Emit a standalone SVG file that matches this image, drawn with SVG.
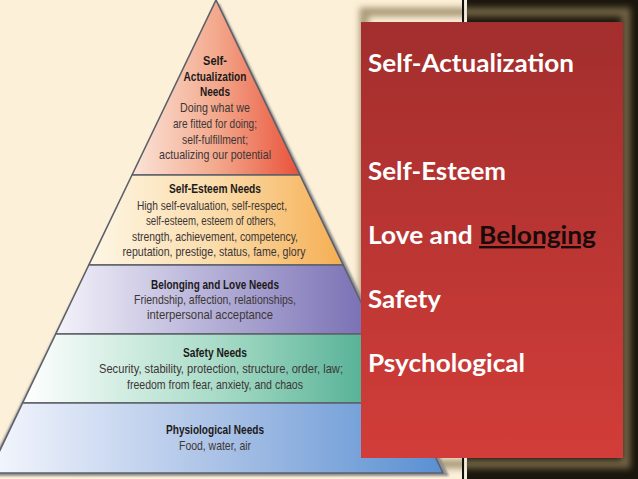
<svg xmlns="http://www.w3.org/2000/svg" width="638" height="479" viewBox="0 0 638 479">
<defs>
<linearGradient id="gTop" gradientUnits="userSpaceOnUse" x1="132" y1="0" x2="300" y2="0"><stop offset="0" stop-color="#fbe4d8"/><stop offset="0.5" stop-color="#f3a98d"/><stop offset="1" stop-color="#e9523a"/></linearGradient>
<linearGradient id="gEst" gradientUnits="userSpaceOnUse" x1="89" y1="0" x2="343" y2="0"><stop offset="0" stop-color="#fdf7e6"/><stop offset="0.5" stop-color="#fbdcaa"/><stop offset="1" stop-color="#f5ae52"/></linearGradient>
<linearGradient id="gBel" gradientUnits="userSpaceOnUse" x1="56" y1="0" x2="376" y2="0"><stop offset="0" stop-color="#f4f3fa"/><stop offset="0.5" stop-color="#b3aed6"/><stop offset="1" stop-color="#766cb2"/></linearGradient>
<linearGradient id="gSaf" gradientUnits="userSpaceOnUse" x1="23" y1="0" x2="409" y2="0"><stop offset="0" stop-color="#ffffff"/><stop offset="0.5" stop-color="#a9dcc8"/><stop offset="1" stop-color="#3ea587"/></linearGradient>
<linearGradient id="gPhy" gradientUnits="userSpaceOnUse" x1="0" y1="0" x2="443" y2="0"><stop offset="0" stop-color="#f1f4fc"/><stop offset="0.5" stop-color="#a9c1e6"/><stop offset="1" stop-color="#5990d2"/></linearGradient>
<linearGradient id="gRed" x1="0" y1="0" x2="0" y2="1"><stop offset="0" stop-color="#a22e2d"/><stop offset="1" stop-color="#d23d39"/></linearGradient>
<filter id="blur" x="-20%" y="-20%" width="140%" height="140%"><feGaussianBlur stdDeviation="3"/></filter>
<filter id="sblur" x="-10%" y="-10%" width="120%" height="120%"><feGaussianBlur stdDeviation="1.2"/></filter>
<style>
.band{stroke:#5d6068;stroke-width:1.6;stroke-linejoin:round}
.h{font-family:"Liberation Sans",Arial,sans-serif;font-weight:700;font-size:13px;fill:#1d1a1a;text-anchor:middle}
.b{font-family:"Liberation Sans",Arial,sans-serif;font-size:13px;fill:#3d3636;text-anchor:middle}
.r{font-family:Lato,"Open Sans",sans-serif;font-weight:700;font-size:24px;fill:#ffffff}
</style>
</defs>
<rect x="0" y="0" width="638" height="479" fill="#fcf0d8"/>
<g id="frame">
<rect x="467" y="0" width="171" height="479" fill="#1b160d"/>
<rect x="364" y="12" width="262" height="452" fill="none" stroke="#8e7d56" stroke-width="9" filter="url(#blur)" opacity="0.75"/>
<rect x="462" y="0" width="2.2" height="479" fill="#111111"/>
<rect x="464.2" y="0" width="2.5" height="479" fill="#f4efe4"/>
</g>
<g id="pyramid-shadow">
<polygon points="219,3 449,476 -8,476 -8,462" fill="#8d8d8f" filter="url(#sblur)"/>
</g>
<g id="self-actualization">
<polygon class="band" points="216,0 300,175 132,175" fill="url(#gTop)"/>
<text class="h" x="215" y="65" textLength="24" lengthAdjust="spacingAndGlyphs">Self-</text>
<text class="h" x="215" y="80.5" textLength="63" lengthAdjust="spacingAndGlyphs">Actualization</text>
<text class="h" x="215" y="96" textLength="30" lengthAdjust="spacingAndGlyphs">Needs</text>
<text class="b" x="215" y="112" textLength="70" lengthAdjust="spacingAndGlyphs">Doing what we</text>
<text class="b" x="215" y="128" textLength="84" lengthAdjust="spacingAndGlyphs">are fitted for doing;</text>
<text class="b" x="215" y="143.5" textLength="66" lengthAdjust="spacingAndGlyphs">self-fulfillment;</text>
<text class="b" x="215" y="159" textLength="112" lengthAdjust="spacingAndGlyphs">actualizing our potential</text>
</g>
<g id="self-esteem">
<polygon class="band" points="132,175 300,175 343.2,265 88.8,265" fill="url(#gEst)"/>
<text class="h" x="215" y="193" textLength="92" lengthAdjust="spacingAndGlyphs">Self-Esteem Needs</text>
<text class="b" x="212" y="209.5" textLength="150" lengthAdjust="spacingAndGlyphs">High self-evaluation, self-respect,</text>
<text class="b" x="211" y="225" textLength="130" lengthAdjust="spacingAndGlyphs">self-esteem, esteem of others,</text>
<text class="b" x="215" y="240.5" textLength="166" lengthAdjust="spacingAndGlyphs">strength, achievement, competency,</text>
<text class="b" x="214" y="256" textLength="183" lengthAdjust="spacingAndGlyphs">reputation, prestige, status, fame, glory</text>
</g>
<g id="belonging">
<polygon class="band" points="88.8,265 343.2,265 376.3,334 55.7,334" fill="url(#gBel)"/>
<text class="h" x="215" y="289" textLength="128" lengthAdjust="spacingAndGlyphs">Belonging and Love Needs</text>
<text class="b" x="215" y="303.5" textLength="162" lengthAdjust="spacingAndGlyphs">Friendship, affection, relationships,</text>
<text class="b" x="210" y="319" textLength="126" lengthAdjust="spacingAndGlyphs">interpersonal acceptance</text>
</g>
<g id="safety">
<polygon class="band" points="55.7,334 376.3,334 409.4,403 22.6,403" fill="url(#gSaf)"/>
<text class="h" x="215" y="357" textLength="64" lengthAdjust="spacingAndGlyphs">Safety Needs</text>
<text class="b" x="221" y="373" textLength="244" lengthAdjust="spacingAndGlyphs">Security, stability, protection, structure, order, law;</text>
<text class="b" x="215" y="389" textLength="176" lengthAdjust="spacingAndGlyphs">freedom from fear, anxiety, and chaos</text>
</g>
<g id="physiological">
<polygon class="band" points="22.6,403 409.4,403 443,473 -11,473" fill="url(#gPhy)"/>
<text class="h" x="215" y="434" textLength="98" lengthAdjust="spacingAndGlyphs">Physiological Needs</text>
<text class="b" x="215" y="449.5" textLength="72" lengthAdjust="spacingAndGlyphs">Food, water, air</text>
</g>
<g id="connectors"/>
<g id="legend-box">
<rect x="361" y="22" width="262" height="436" fill="url(#gRed)"/>
<text class="r" x="368" y="72" textLength="206" lengthAdjust="spacingAndGlyphs">Self-Actualization</text>
<text class="r" x="368" y="180" textLength="138" lengthAdjust="spacingAndGlyphs">Self-Esteem</text>
<text class="r" x="368" y="244" textLength="228" lengthAdjust="spacingAndGlyphs">Love and <tspan fill="#1a0b0b" text-decoration="underline">Belonging</tspan></text>
<text class="r" x="368" y="308" textLength="73" lengthAdjust="spacingAndGlyphs">Safety</text>
<text class="r" x="368" y="372" textLength="157" lengthAdjust="spacingAndGlyphs">Psychological</text>
</g>
</svg>
